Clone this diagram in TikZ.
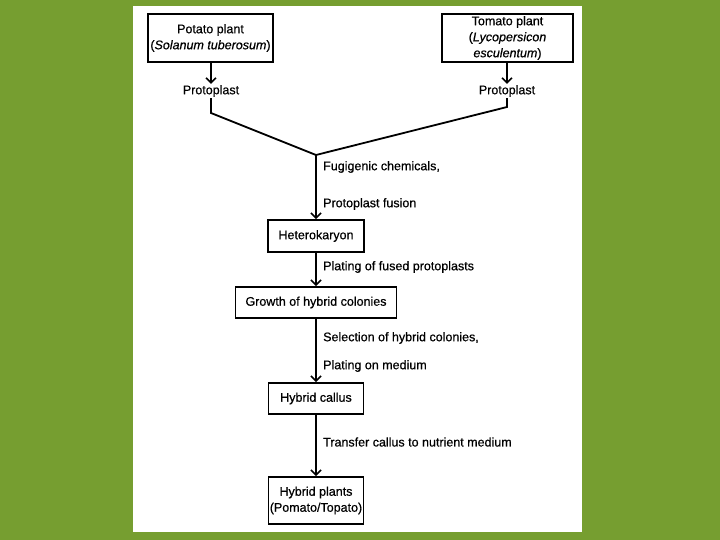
\documentclass[tikz,border=0pt]{standalone}
\usepackage{fontspec}
\setmainfont{Liberation Sans}
\newfontfamily\heavy{Liberation Sans}[FakeBold=0.6]
\usetikzlibrary{arrows.meta}
\definecolor{bggreen}{RGB}{118,158,48}
\begin{document}
\begin{tikzpicture}[x=1pt,y=-1pt,
  every node/.style={font=\heavy\fontsize{12.5}{16}\selectfont, text=black},
  stepbox/.style={draw=black, line width=1.8pt, fill=white, align=center, inner sep=0pt},
  lbl/.style={inner sep=1pt},
  side/.style={anchor=west, inner sep=0pt},
  conn/.style={draw=black, line width=1.8pt},
  arr/.style={conn, -{Straight Barb[length=5pt,width=10pt,line width=1.6pt]}}
]
\fill[bggreen] (0,0) rectangle (720,540);
\fill[white] (133,6) rectangle (582,532);
\useasboundingbox (0,0) rectangle (720,540);

\node[stepbox, minimum width=125pt, minimum height=48pt] (potato) at (210.5,38)
  {Potato plant\\(\textit{Solanum tuberosum})};
\node[stepbox, minimum width=131pt, minimum height=48pt] (tomato) at (507.5,38)
  {Tomato plant\\(\textit{Lycopersicon}\\\textit{esculentum})};
\node[lbl] (p1) at (211,91) {Protoplast};
\node[lbl] (p2) at (507,91) {Protoplast};

\coordinate (b1) at (211,113);
\coordinate (b2) at (507,107);
\coordinate (j) at (316,155);

\node[stepbox, minimum width=96pt, minimum height=32pt] (het) at (316,236) {Heterokaryon};
\node[stepbox, minimum width=161pt, minimum height=31pt] (grow) at (316,302.5) {Growth of hybrid colonies};
\node[stepbox, minimum width=95pt, minimum height=31pt] (callus) at (316,398.5) {Hybrid callus};
\node[stepbox, minimum width=95pt, minimum height=47pt] (plants) at (316,500.5) {Hybrid plants\\(Pomato/Topato)};

\draw[arr] (potato.south -| p1) -- (p1.north);
\draw[arr] (tomato.south -| p2) -- (p2.north);
\draw[conn] (p1.south) -- (b1) -- (j);
\draw[conn] (p2.south) -- (b2) -- (j);
\draw[arr] (j) -- (het.north);
\draw[arr] (het.south) -- (grow.north);
\draw[arr] (grow.south) -- (callus.north);
\draw[arr] (callus.south) -- (plants.north);

\node[side] (l1) at (323,167) {Fugigenic chemicals,};
\node[side] (l2) at (323,204) {Protoplast fusion};
\node[side] (l3) at (323,267) {Plating of fused protoplasts};
\node[side] (l4) at (323,338) {Selection of hybrid colonies,};
\node[side] (l5) at (323,366) {Plating on medium};
\node[side] (l6) at (323,442) {Transfer callus to nutrient medium};
\end{tikzpicture}
\end{document}
